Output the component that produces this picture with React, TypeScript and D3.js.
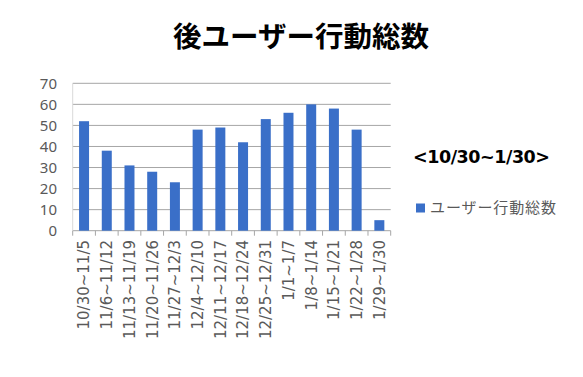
import React from "react";
import * as d3 from "d3";

const categories = [
  "10/30~11/5", "11/6~11/12", "11/13~11/19", "11/20~11/26", "11/27~12/3",
  "12/4~12/10", "12/11~12/17", "12/18~12/24", "12/25~12/31", "1/1~1/7",
  "1/8~1/14", "1/15~1/21", "1/22~1/28", "1/29~1/30",
];
const values = [52, 38, 31, 28, 23, 48, 49, 42, 53, 56, 60, 58, 48, 5];
const yTicks = [0, 10, 20, 30, 40, 50, 60, 70];
const title = "後ユーザー行動総数";
const subtitle = "<10/30~1/30>";
const seriesName = "ユーザー行動総数";

const W = 583, H = 377;
const left = 72.7, right = 390.7, top = 83.3, bottom = 230.7;
const FONT = "'Noto Sans CJK JP', 'Noto Sans', sans-serif";
const BAR = "#3A6FC8";

export default function App() {
  const x = d3.scaleBand<string>().domain(categories).range([left, right]).paddingInner(0.56).paddingOuter(0.28);
  const y = d3.scaleLinear().domain([0, 70]).range([bottom, top]);
  const step = (right - left) / categories.length;
  return (
    <svg width={W} height={H} style={{ position: "absolute", left: 0, top: 0, background: "#fff" }} fontFamily={FONT}>
      <rect width={W} height={H} fill="#fff" />
      <text x={301} y={47} textAnchor="middle" fontSize={28.5} fontWeight="bold" fill="#000">{title}</text>
      {yTicks.map((t) => (
        <g key={t}>
          <line x1={left} x2={right} y1={y(t)} y2={y(t)} stroke="#a6a6a6" strokeWidth={1} />
          <text x={57} y={y(t)} dy="0.36em" textAnchor="end" fontSize={15} fill="#595959" fontFamily="'Noto Sans', sans-serif">{t}</text>
        </g>
      ))}
      <line x1={left} x2={left} y1={top} y2={bottom} stroke="#d9d9d9" strokeWidth={1} />
      {d3.range(categories.length + 1).map((i) => (
        <line key={i} x1={left + i * step} x2={left + i * step} y1={bottom} y2={bottom + 5} stroke="#a6a6a6" strokeWidth={1} />
      ))}
      {categories.map((c, i) => (
        <rect key={c} x={x(c)} y={y(values[i])} width={x.bandwidth()} height={bottom - y(values[i])} fill={BAR} />
      ))}
      {categories.map((c) => {
        const cx = (x(c) as number) + x.bandwidth() / 2;
        return (
          <text key={c} transform={`translate(${cx},${240}) rotate(-90)`} dy="0.36em" textAnchor="end" fontSize={15} fill="#595959" fontFamily="'DejaVu Sans', sans-serif">{c}</text>
        );
      })}
      <text x={413} y={163} fontSize={17.5} fontWeight="bold" fill="#000" fontFamily="'DejaVu Sans', sans-serif" textLength={137}>{subtitle}</text>
      <rect x={416} y={203.5} width={9} height={9} fill={BAR} />
      <text x={430} y={208} dy="0.36em" fontSize={15} fill="#595959" textLength={126}>{seriesName}</text>
    </svg>
  );
}
